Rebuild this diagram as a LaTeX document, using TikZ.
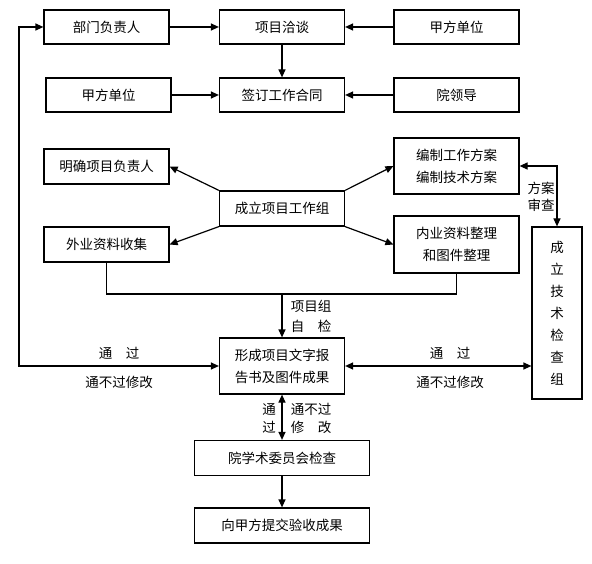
\documentclass[tikz,border=0pt]{standalone}
\usepackage{fontspec}
\setmainfont{Noto Sans CJK SC}
\usepackage{tikz}
\usetikzlibrary{arrows.meta,positioning,calc}

\begin{document}
\begin{tikzpicture}[x=1pt,y=-1pt,font=\fontsize{13.5}{22}\selectfont,
  box/.style={draw,line width=1.2pt,inner sep=0pt,minimum width=125pt,minimum height=34pt,align=center},
  wide/.style={box,minimum width=175pt,minimum height=35pt},
  con/.style={line width=1.2pt,-{Triangle[length=8pt,width=7pt]}},
  dcon/.style={line width=1.2pt,{Triangle[length=8pt,width=7pt]}-{Triangle[length=8pt,width=7pt]}},
  lab/.style={inner sep=0pt,align=center}]
\useasboundingbox (0,0) rectangle (592,564);
% top rows
\node[box] (fzr)  at (106.5,27) {部门负责人};
\node[box] (qt)   at (282,27)   {项目洽谈};
\node[box] (jfa)  at (456.5,27) {甲方单位};
\node[box] (jfb)  at (108.5,95) {甲方单位};
\node[box] (ht)   at (282,95)   {签订工作合同};
\node[box] (yld)  at (456.5,95) {院领导};
% work group
\node[box,minimum height=35pt] (mq)  at (106.5,166.5) {明确项目负责人};
\node[box,minimum height=35pt] (wy)  at (106.5,244.5) {外业资料收集};
\node[box,minimum height=35pt] (gzz) at (282,208.5)   {成立项目工作组};
\node[box,minimum height=56pt] (fa)  at (456.5,166)   {编制工作方案\\编制技术方案};
\node[box,minimum height=57pt] (ny)  at (456.5,244.5) {内业资料整理\\和图件整理};
\node[box,minimum width=50pt,minimum height=172pt,font=\fontsize{13.5}{22}\selectfont] (jcz) at (557,313) {成\\立\\技\\术\\检\\查\\组};
% results
\node[box,minimum height=56pt] (cg) at (282,366) {形成项目文字报\\告书及图件成果};
\node[wide] (xsw) at (282,458)   {院学术委员会检查};
\node[wide] (tj)  at (282,525.5) {向甲方提交验收成果};
% labels
\node[lab] (tga)  at (119,353) {通\quad 过};
\node[lab] (btga) at (119,382) {通不过修改};
\node[lab] (tgb)  at (450,353) {通\quad 过};
\node[lab] (btgb) at (450,382) {通不过修改};
\node[lab,font=\fontsize{13.5}{20}\selectfont] (zj) at (311,316) {项目组\\自\quad 检};
\node[lab,font=\fontsize{13.5}{17}\selectfont] (sc) at (541,197) {方案\\审查};
\node[lab,font=\fontsize{13.5}{18}\selectfont] (tgc) at (269,418) {通\\过};
\node[lab,font=\fontsize{13.5}{18}\selectfont] (btgc) at (311,418) {通不过\\修\quad 改};
\coordinate (lpt) at (19,27);
\coordinate (lpb) at (19,366);
\coordinate (jn)  at (282,294);
% connectors
\draw[con] (fzr) -- (qt);
\draw[con] (jfa) -- (qt);
\draw[con] (qt) -- (ht);
\draw[con] (jfb) -- (ht);
\draw[con] (yld) -- (ht);
\draw[con] (gzz.north west) -- (mq.east);
\draw[con] (gzz.south west) -- (wy.east);
\draw[con] (gzz.north east) -- (fa.west);
\draw[con] (gzz.south east) -- (ny.west);
\draw[dcon] (fa.east) -| (jcz.north);
\draw[line width=1.2pt] (wy.south) |- (jn) -| (ny.south);
\draw[con] (jn) -- (cg.north);
\draw[dcon] (fzr.west) -- (lpt) -- (lpb) -- (cg.west);
\draw[dcon] (cg.east) -- (cg.east -| jcz.west);
\draw[dcon] (cg.south) -- (xsw.north);
\draw[con] (xsw) -- (tj);
\end{tikzpicture}
\end{document}
